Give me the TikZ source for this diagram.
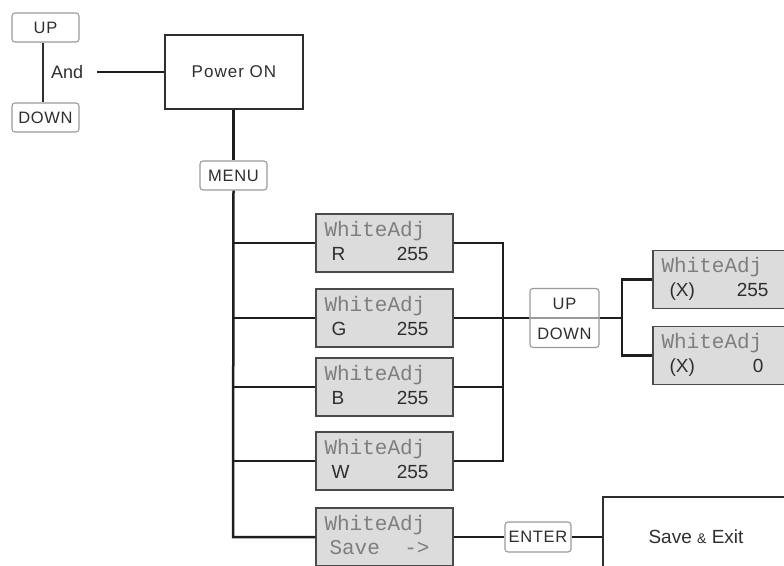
\documentclass[tikz,border=0pt]{standalone}
\usepackage{fontspec}
\setmainfont{Liberation Sans}
\newfontfamily\monof{Liberation Mono}
\definecolor{linec}{HTML}{1E1E1E}
\definecolor{lcdb}{HTML}{4A4A4A}
\definecolor{lcdf}{HTML}{DCDCDC}
\definecolor{keyb}{HTML}{9A9A9A}
\definecolor{txt}{HTML}{2E2E2E}
\definecolor{montxt}{HTML}{7E7E7E}
\newcommand\lcdbox[4]{%
  \node[lcd] (#1) at #2 {};
  \node[monotext, anchor=base west] (#1a) at ([xshift=9pt,yshift=-23pt]#1.north west) {WhiteAdj};
  \node[lcdtext, anchor=base west] (#1b) at ([xshift=16pt,yshift=-47pt]#1.north west) {#3};
  \node[lcdtext, anchor=base east] (#1c) at ([xshift=-25pt,yshift=-47pt]#1.north east) {#4};
}
\begin{document}
\begin{tikzpicture}[x=1pt,y=-1pt,
  conn/.style={draw=linec, line width=2.5pt},
  lcd/.style={draw=lcdb, fill=lcdf, line width=1.4pt, minimum width=137pt, minimum height=58pt, inner sep=0pt},
  key/.style={draw=keyb, fill=white, rounded corners=3pt, line width=1.1pt, inner sep=0pt, text=txt,
    font=\fontsize{16.5}{16.5}\selectfont\addfontfeature{LetterSpace=4}},
  bigbox/.style={draw=txt, fill=white, line width=1.4pt, inner sep=0pt, text=txt,
    font=\fontsize{17}{17}\selectfont\addfontfeature{LetterSpace=6}},
  monotext/.style={inner sep=0pt, text=montxt, font=\fontsize{21}{21}\selectfont\monof},
  lcdtext/.style={inner sep=0pt, text=txt, font=\fontsize{19}{19}\selectfont},
  plain/.style={inner sep=0pt, text=txt, font=\fontsize{18}{18}\selectfont}
]
\useasboundingbox (0,0) rectangle (784,565);

% top-left keys
\node[key, minimum width=67pt, minimum height=29pt] (up) at (45.5,27.5) {UP};
\node[key, minimum width=67pt, minimum height=29pt] (down) at (45.5,117.5) {DOWN};
\draw[draw=txt, line width=1.6pt] ([xshift=-2.5pt]up.south) -- ([xshift=-2.5pt]down.north);
\node[plain, anchor=west] (and) at (51,72) {And};
\coordinate (andR) at (97,72);

\node[bigbox, minimum width=138pt, minimum height=74pt] (power) at (234,72) {Power ON};
\draw[conn] (andR) -- (power.west);

\node[key, minimum width=67pt, minimum height=29pt] (menu) at (233.5,175.5) {MENU};
\draw[conn] (menu.north |- power.south) -- (menu.north);

% LCD boxes
\lcdbox{R}{(384.5,243)}{R}{255}
\lcdbox{G}{(384.5,318)}{G}{255}
\lcdbox{B}{(384.5,387)}{B}{255}
\lcdbox{W}{(384.5,461)}{W}{255}
\node[lcd] (S) at (384.5,537) {};
\node[monotext, anchor=base west] (Sa) at ([xshift=9pt,yshift=-23pt]S.north west) {WhiteAdj};
\node[monotext, anchor=base west] (Sb) at ([xshift=14pt,yshift=-47pt]S.north west) {Save};
\node[monotext, anchor=base east] (Sc) at ([xshift=-24pt,yshift=-47pt]S.north east) {->};

% left trunk
\coordinate (trunkB) at (233,537);
\draw[conn] (menu.south) -- (trunkB) -- (S.west);
\draw[conn] (R.west -| trunkB) -- (R.west);
\draw[conn] (G.west -| trunkB) -- (G.west);
\draw[conn] (B.west -| trunkB) -- (B.west);
\draw[conn] (W.west -| trunkB) -- (W.west);

% right collector
\coordinate (colT) at (503,243);
\coordinate (colB) at (503,461);
\draw[conn] (R.east) -- (colT) -- (colB) -- (W.east);
\draw[conn] (B.east) -- (B.east -| colT);

% UP/DOWN box
\node[key, minimum width=69pt, minimum height=59pt] (ud) at (564.5,318) {};
\draw[draw=keyb, line width=1.1pt] (ud.west) -- (ud.east);
\node[key, draw=none, fill=none] (udu) at (564.5,304) {UP};
\node[key, draw=none, fill=none] (udd) at (564.5,334) {DOWN};
\draw[conn] (G.east) -- (ud.west);

% branch to X boxes
\node[lcd] (X1) at (721.5,279.5) {};
\node[monotext, anchor=base west] (X1a) at ([xshift=9pt,yshift=-23pt]X1.north west) {WhiteAdj};
\node[lcdtext, anchor=base west] (X1b) at ([xshift=17pt,yshift=-47pt]X1.north west) {(X)};
\node[lcdtext, anchor=base east] (X1c) at ([xshift=-22pt,yshift=-47pt]X1.north east) {255};
\node[lcd] (X0) at (721.5,355.5) {};
\node[monotext, anchor=base west] (X0a) at ([xshift=9pt,yshift=-23pt]X0.north west) {WhiteAdj};
\node[lcdtext, anchor=base west] (X0b) at ([xshift=17pt,yshift=-47pt]X0.north west) {(X)};
\node[lcdtext, anchor=base east] (X0c) at ([xshift=-27pt,yshift=-47pt]X0.north east) {0};
\coordinate (brT) at (622,279.5);
\coordinate (brB) at (622,355.5);
\draw[conn] (ud.east) -- (ud.east -| brT);
\draw[conn] (X1.west) -- (brT) -- (brB) -- (X0.west);

% ENTER and Save & Exit
\node[key, minimum width=66pt, minimum height=30pt] (enter) at (538,537) {ENTER};
\node[bigbox, minimum width=186pt, minimum height=80pt, font=\fontsize{19}{19}\selectfont] (exit) at (696,537) {Save {\fontsize{14}{14}\selectfont\&} Exit};
\draw[conn] (S.east) -- (enter.west);
\draw[conn] (enter.east) -- (exit.west);
\end{tikzpicture}
\end{document}
